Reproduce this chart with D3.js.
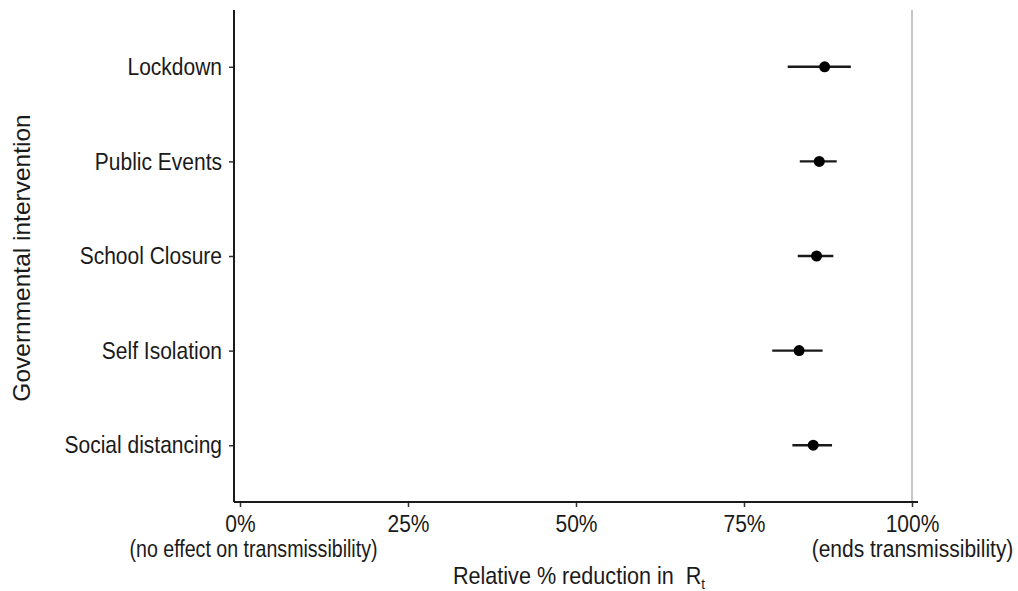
<!DOCTYPE html>
<html>
<head>
<meta charset="utf-8">
<script src="https://cdn.jsdelivr.net/npm/d3@7"></script>
<style>
  html, body { margin: 0; padding: 0; background: #fff; }
  svg { display: block; font-family: "Liberation Sans", Arial, Helvetica, sans-serif; }
  text { white-space: pre; }
</style>
</head>
<body>
<svg id="chart" width="1018" height="591"></svg>
<script>
// Interventions, top to bottom
const interventions = ["Lockdown", "Public Events", "School Closure", "Self Isolation", "Social distancing"];
// Estimated relative % reduction in Rt and its interval
const estimate = [87.0, 86.2, 85.8, 83.2, 85.3];
const lower    = [81.5, 83.3, 83.0, 79.2, 82.2];
const upper    = [90.9, 88.8, 88.3, 86.7, 88.1];
// x-axis ticks and their labels
const xTicks = [0, 25, 50, 75, 100];
const xTickLabels = ["0%", "25%", "50%", "75%", "100%"];
const xTickNotes = ["(no effect on transmissibility)", "", "", "", "(ends transmissibility)"];

const svg = d3.select("#chart");
const plotLeft = 234, plotRight = 918, plotTop = 10, plotBottom = 502;

const x = d3.scaleLinear().domain([0, 100]).range([240, 912]);
const y = d3.scalePoint().domain(interventions).range([plotTop, plotBottom]).padding(0.6);

const ink = "#1a1a1a";
const fontSize = 24;     // label font, drawn slightly condensed
const squeeze = 0.875;

// reference line at 100%
svg.append("line")
  .attr("x1", x(100)).attr("x2", x(100))
  .attr("y1", plotTop).attr("y2", plotBottom)
  .attr("stroke", "#b5b5b5").attr("stroke-width", 1.5);

// y axis
const gy = svg.append("g").attr("transform", `translate(${plotLeft},0)`)
  .call(d3.axisLeft(y).tickSize(5).tickPadding(6));
gy.select(".domain").remove();
gy.selectAll(".tick line").attr("stroke", "#333").attr("stroke-width", 1.5);
gy.selectAll(".tick text").attr("fill", ink).attr("font-size", fontSize).attr("font-family", null)
  .attr("x", null)
  .attr("transform", `translate(-12,0) scale(${squeeze},1)`);
svg.append("line").attr("x1", plotLeft).attr("x2", plotLeft).attr("y1", plotTop).attr("y2", plotBottom)
  .attr("stroke", ink).attr("stroke-width", 2);

// x axis
const gx = svg.append("g").attr("transform", `translate(0,${plotBottom})`)
  .call(d3.axisBottom(x).tickValues(xTicks).tickSize(5).tickPadding(6)
    .tickFormat((d, i) => xTickLabels[i]));
gx.select(".domain").remove();
gx.selectAll(".tick line").attr("stroke", "#333").attr("stroke-width", 1.5);
gx.selectAll(".tick text").attr("fill", ink).attr("font-size", fontSize).attr("font-family", null)
  .attr("dy", null).attr("y", null)
  .attr("transform", `translate(0,30) scale(${squeeze},1)`);
gx.selectAll(".tick").each(function(d, i) {
  if (!xTickNotes[i]) return;
  const t = d3.select(this).append("text")
    .attr("fill", ink).attr("font-size", fontSize)
    .attr("text-anchor", "middle")
    .attr("transform", `translate(${i === 0 ? 13 : 0},55) scale(${squeeze},1)`)
    .text(xTickNotes[i]);
  if (i === 0) t.attr("textLength", 248 / squeeze).attr("lengthAdjust", "spacingAndGlyphs");
});
svg.append("line").attr("x1", plotLeft).attr("x2", plotRight).attr("y1", plotBottom).attr("y2", plotBottom)
  .attr("stroke", ink).attr("stroke-width", 2);

// interval bars
const rows = interventions.map((name, i) => ({ name, est: estimate[i], lo: lower[i], hi: upper[i] }));
svg.append("g").selectAll("line").data(rows).join("line")
  .attr("x1", d => x(d.lo)).attr("x2", d => x(d.hi))
  .attr("y1", d => y(d.name)).attr("y2", d => y(d.name))
  .attr("stroke", ink).attr("stroke-width", 2.3);

// point estimates
svg.append("g").selectAll("circle").data(rows).join("circle")
  .attr("cx", d => x(d.est)).attr("cy", d => y(d.name))
  .attr("r", 5.5).attr("fill", "#000");

// axis titles
const xt = svg.append("text")
  .attr("transform", `translate(${(plotLeft + plotRight) / 2 + 3},584) scale(0.9,1)`)
  .attr("text-anchor", "middle").attr("font-size", 24).attr("fill", ink);
xt.append("tspan").text("Relative % reduction in  R");
xt.append("tspan").attr("font-size", 15).attr("dy", 5).text("t");

svg.append("text")
  .attr("transform", `translate(30,${(plotTop + plotBottom) / 2 + 2}) rotate(-90)`)
  .attr("text-anchor", "middle").attr("font-size", 24.5).attr("fill", ink)
  .text("Governmental intervention");
</script>
</body>
</html>
